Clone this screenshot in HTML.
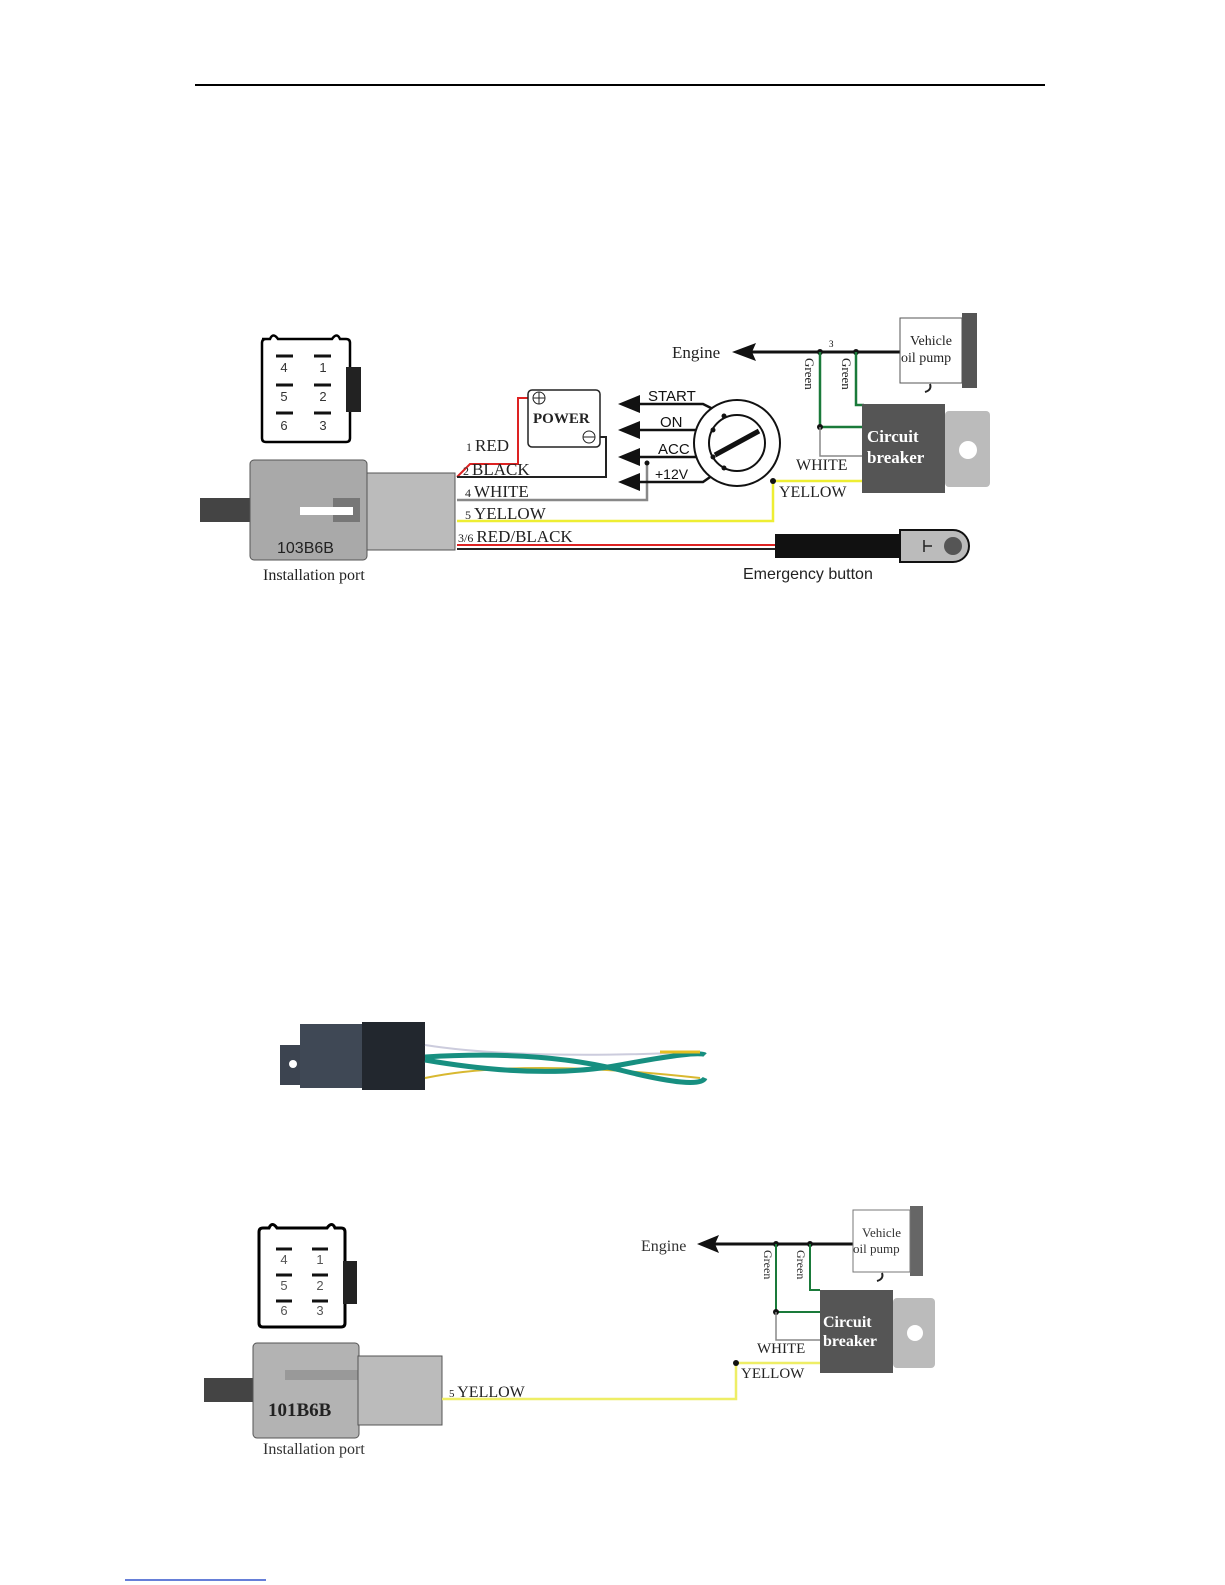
<!DOCTYPE html>
<html><head><meta charset="utf-8"><style>
html,body{margin:0;padding:0;background:#fff;}
svg{display:block;}
.s{font-family:"Liberation Serif",serif;}
.a{font-family:"Liberation Sans",sans-serif;}
</style></head><body>
<svg width="1225" height="1585" viewBox="0 0 1225 1585" xmlns="http://www.w3.org/2000/svg">
<line x1="195" y1="85" x2="1045" y2="85" stroke="#000" stroke-width="2"/>
<line x1="125" y1="1580" x2="266" y2="1580" stroke="#3355cc" stroke-width="1.5"/>

<path d="M262 339 h8 q3 -7 8 0 h54 q5 -7 8 0 h6 q4 0 4 4 v95 q0 4 -4 4 h-80 q-4 0 -4 -4 v-95 q0 -4 4 -4z" fill="#fff" stroke="#000" stroke-width="2.5"/>
<rect x="346" y="367" width="15" height="45" fill="#222"/>
<g stroke="#111" stroke-width="3">
<line x1="276" y1="356" x2="293" y2="356"/><line x1="314" y1="356" x2="331" y2="356"/>
<line x1="276" y1="385" x2="293" y2="385"/><line x1="314" y1="385" x2="331" y2="385"/>
<line x1="276" y1="413" x2="293" y2="413"/><line x1="314" y1="413" x2="331" y2="413"/>
</g>
<g class="a" font-size="13" fill="#333" text-anchor="middle">
<text x="284" y="372">4</text><text x="323" y="372">1</text>
<text x="284" y="401">5</text><text x="323" y="401">2</text>
<text x="284" y="430">6</text><text x="323" y="430">3</text>
</g>
<rect x="200" y="498" width="52" height="24" fill="#444"/>
<rect x="250" y="460" width="117" height="100" rx="4" fill="#a9a9a9" stroke="#555"/>
<rect x="367" y="473" width="88" height="77" fill="#bbb" stroke="#555"/>
<rect x="333" y="498" width="27" height="24" fill="#777"/>
<rect x="300" y="507" width="53" height="8" fill="#fff"/>
<text x="277" y="553" class="a" font-size="16" fill="#222">103B6B</text>
<text x="263" y="580" class="s" font-size="16" fill="#222">Installation port</text>
<polyline points="457,477 470,464 518,464 518,398 532,398" fill="none" stroke="#d22" stroke-width="2"/>
<polyline points="457,477 606,477 606,437 594,437" fill="none" stroke="#222" stroke-width="2"/>
<polyline points="457,500 647,500 647,463" fill="none" stroke="#888" stroke-width="2.5"/>
<polyline points="457,521 773,521 773,481 862,481" fill="none" stroke="#ee3" stroke-width="2.5"/>
<line x1="457" y1="545" x2="776" y2="545" stroke="#d22" stroke-width="2"/>
<line x1="457" y1="549" x2="776" y2="549" stroke="#222" stroke-width="2"/>
<g class="s" fill="#222">
<text x="466" y="451" font-size="17"><tspan font-size="12">1 </tspan>RED</text>
<text x="463" y="475" font-size="17"><tspan font-size="12">2 </tspan>BLACK</text>
<text x="465" y="497" font-size="17"><tspan font-size="12">4 </tspan>WHITE</text>
<text x="465" y="519" font-size="17"><tspan font-size="12">5 </tspan>YELLOW</text>
<text x="458" y="542" font-size="17"><tspan font-size="12">3/6 </tspan>RED/BLACK</text>
</g>
<rect x="528" y="390" width="72" height="57" rx="4" fill="#fff" stroke="#222" stroke-width="1.5"/>
<text x="533" y="423" class="s" font-size="15" font-weight="bold" fill="#222">POWER</text>
<circle cx="539" cy="398" r="6" fill="none" stroke="#222"/><path d="M533 398h12M539 392v12" stroke="#222"/>
<circle cx="589" cy="437" r="6" fill="none" stroke="#222"/><path d="M583 437h12" stroke="#222"/>
<g fill="#111">
<polygon points="618,404 640,395 640,413"/><polygon points="618,430 640,421 640,439"/>
<polygon points="618,457 640,448 640,466"/><polygon points="618,482 640,473 640,491"/>
</g>
<g stroke="#111" stroke-width="2.5" fill="none">
<polyline points="638,404 703,404 723,414"/>
<line x1="638" y1="430" x2="712" y2="430"/>
<line x1="638" y1="457" x2="712" y2="457"/>
<polyline points="638,482 703,482 723,468"/>
</g>
<circle cx="647" cy="463" r="2.5" fill="#111"/>
<g class="a" font-size="15" fill="#111">
<text x="648" y="401">START</text><text x="660" y="427">ON</text><text x="658" y="454">ACC</text><text x="655" y="479" font-size="14">+12V</text>
</g>
<circle cx="737" cy="443" r="43" fill="#fff" stroke="#111" stroke-width="2"/>
<circle cx="737" cy="443" r="28" fill="#fff" stroke="#111" stroke-width="2"/>
<line x1="715" y1="455" x2="759" y2="431" stroke="#111" stroke-width="5"/>
<g fill="#111"><circle cx="724" cy="416" r="2.5"/><circle cx="713" cy="430" r="2.5"/><circle cx="713" cy="457" r="2.5"/><circle cx="724" cy="468" r="2.5"/></g>
<text x="672" y="358" class="s" font-size="17" fill="#222">Engine</text>
<polygon points="732,352 756,343 752,352 756,361" fill="#111"/>
<line x1="748" y1="352" x2="903" y2="352" stroke="#111" stroke-width="3"/>
<text x="829" y="347" class="s" font-size="9">3</text>
<circle cx="820" cy="352" r="3" fill="#111"/><circle cx="856" cy="352" r="3" fill="#111"/>
<polyline points="820,352 820,427 864,427" fill="none" stroke="#1a7a3a" stroke-width="2.5"/>
<polyline points="856,352 856,405 864,405" fill="none" stroke="#1a7a3a" stroke-width="2.5"/>
<circle cx="820" cy="427" r="3" fill="#111"/>
<polyline points="820,427 820,456 862,456" fill="none" stroke="#888" stroke-width="1.5"/>
<text transform="translate(805,358) rotate(90)" class="s" font-size="13" fill="#222">Green</text>
<text transform="translate(842,358) rotate(90)" class="s" font-size="13" fill="#222">Green</text>
<text x="796" y="470" class="s" font-size="16" fill="#222">WHITE</text>
<text x="779" y="497" class="s" font-size="16" fill="#222">YELLOW</text>
<circle cx="773" cy="481" r="3" fill="#111"/>
<rect x="862" y="404" width="83" height="89" fill="#555"/>
<text x="867" y="442" class="s" font-size="17" font-weight="bold" fill="#fff">Circuit</text>
<text x="867" y="463" class="s" font-size="17" font-weight="bold" fill="#fff">breaker</text>
<rect x="945" y="411" width="45" height="76" rx="4" fill="#bbb"/>
<circle cx="968" cy="450" r="9" fill="#fff"/>
<rect x="962" y="313" width="15" height="75" fill="#555"/>
<rect x="900" y="318" width="62" height="65" fill="#fff" stroke="#555"/>
<text x="910" y="345" class="s" font-size="14" fill="#222">Vehicle</text>
<text x="901" y="362" class="s" font-size="14" fill="#222">oil pump</text>
<path d="M930 384 q2 6 -5 8" stroke="#222" stroke-width="2" fill="none"/>
<rect x="775" y="534" width="128" height="24" fill="#111"/>
<path d="M900 530 h53 a16 16 0 0 1 0 32 h-53z" fill="#bbb" stroke="#111" stroke-width="2"/>
<circle cx="953" cy="546" r="9" fill="#555"/>
<path d="M924 540 v12 M924 546 h8" stroke="#222" stroke-width="1.5"/>
<text x="743" y="579" class="a" font-size="16" fill="#222">Emergency button</text>

<path d="M280 1045 h22 v40 h-22z" fill="#3c4450"/>
<circle cx="293" cy="1064" r="4" fill="#fff"/>
<rect x="300" y="1024" width="66" height="64" fill="#3f4855"/>
<rect x="362" y="1022" width="63" height="68" fill="#22272e"/>
<path d="M425 1045 Q520 1060 700 1052" stroke="#ccd" stroke-width="2" fill="none"/>
<path d="M425 1078 Q520 1058 700 1078" stroke="#d8b830" stroke-width="2" fill="none"/>
<path d="M425 1057 Q540 1050 620 1070 T705 1078" stroke="#178f80" stroke-width="5" fill="none"/>
<path d="M425 1060 Q540 1080 620 1065 T705 1055" stroke="#178f80" stroke-width="5" fill="none"/>
<path d="M660 1052 h40" stroke="#e5c020" stroke-width="3"/>

<path d="M263 1228 h6 q3 -7 8 0 h50 q5 -7 8 0 h6 q4 0 4 4 v91 q0 4 -4 4 h-78 q-4 0 -4 -4 v-91 q0 -4 4 -4z" fill="#fff" stroke="#000" stroke-width="3"/>
<rect x="343" y="1261" width="14" height="43" fill="#222"/>
<g stroke="#111" stroke-width="3">
<line x1="276" y1="1249" x2="292" y2="1249"/><line x1="312" y1="1249" x2="328" y2="1249"/>
<line x1="276" y1="1275" x2="292" y2="1275"/><line x1="312" y1="1275" x2="328" y2="1275"/>
<line x1="276" y1="1301" x2="292" y2="1301"/><line x1="312" y1="1301" x2="328" y2="1301"/>
</g>
<g class="a" font-size="13" fill="#555" text-anchor="middle">
<text x="284" y="1264">4</text><text x="320" y="1264">1</text>
<text x="284" y="1290">5</text><text x="320" y="1290">2</text>
<text x="284" y="1315">6</text><text x="320" y="1315">3</text>
</g>
<rect x="204" y="1378" width="52" height="24" fill="#444"/>
<rect x="253" y="1343" width="106" height="95" rx="4" fill="#b3b3b3" stroke="#555"/>
<rect x="285" y="1370" width="74" height="10" fill="#999"/>
<rect x="358" y="1356" width="84" height="69" fill="#bbb" stroke="#555"/>
<text x="268" y="1416" class="s" font-size="19" font-weight="bold" fill="#222">101B6B</text>
<text x="263" y="1454" class="s" font-size="16" fill="#333">Installation port</text>
<polyline points="442,1399 736,1399 736,1363 820,1363" fill="none" stroke="#ee6" stroke-width="2.5"/>
<text x="449" y="1397" class="s" font-size="16" fill="#222"><tspan font-size="11">5 </tspan>YELLOW</text>
<circle cx="736" cy="1363" r="3" fill="#111"/>
<text x="641" y="1251" class="s" font-size="16" fill="#333">Engine</text>
<polygon points="697,1244 719,1235 715,1244 719,1253" fill="#111"/>
<line x1="712" y1="1244" x2="856" y2="1244" stroke="#111" stroke-width="3"/>
<circle cx="776" cy="1244" r="3" fill="#111"/><circle cx="810" cy="1244" r="3" fill="#111"/>
<polyline points="776,1244 776,1312 820,1312" fill="none" stroke="#1a7a3a" stroke-width="2"/>
<polyline points="810,1244 810,1290 820,1290" fill="none" stroke="#1a7a3a" stroke-width="2"/>
<circle cx="776" cy="1312" r="3" fill="#111"/>
<polyline points="776,1312 776,1340 820,1340" fill="none" stroke="#888" stroke-width="1.5"/>
<text transform="translate(764,1250) rotate(90)" class="s" font-size="12" fill="#222">Green</text>
<text transform="translate(797,1250) rotate(90)" class="s" font-size="12" fill="#222">Green</text>
<text x="757" y="1353" class="s" font-size="15" fill="#222">WHITE</text>
<text x="741" y="1378" class="s" font-size="15" fill="#222">YELLOW</text>
<rect x="820" y="1290" width="73" height="83" fill="#555"/>
<text x="823" y="1327" class="s" font-size="16" font-weight="bold" fill="#fff">Circuit</text>
<text x="823" y="1346" class="s" font-size="16" font-weight="bold" fill="#fff">breaker</text>
<rect x="893" y="1298" width="42" height="70" rx="4" fill="#bbb"/>
<circle cx="915" cy="1333" r="8" fill="#fff"/>
<rect x="910" y="1206" width="13" height="70" fill="#666"/>
<rect x="853" y="1210" width="57" height="62" fill="#fff" stroke="#777"/>
<text x="862" y="1237" class="s" font-size="13" fill="#333">Vehicle</text>
<text x="853" y="1253" class="s" font-size="13" fill="#333">oil pump</text>
<path d="M882 1273 q2 6 -5 8" stroke="#222" stroke-width="2" fill="none"/>
</svg>
</body></html>
